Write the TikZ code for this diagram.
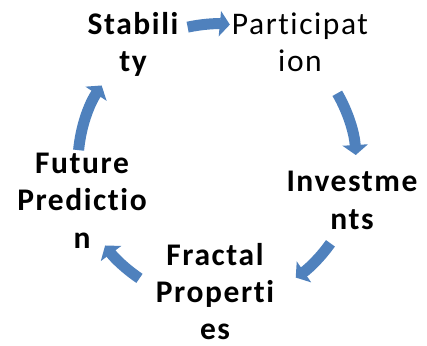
\documentclass[tikz,border=0pt]{standalone}
\usepackage{fontspec}
\setmainfont[LetterSpace=5,Ligatures={NoCommon}]{Carlito}
\usetikzlibrary{arrows.meta,calc}
\definecolor{arcblue}{HTML}{4F81BD}
\tikzset{
  lbl/.style={font=\bfseries\fontsize{31.5}{37}\selectfont, align=center, inner sep=0pt, anchor=base},
  lblr/.style={lbl, font=\fontsize{31.5}{37}\selectfont},
  arcarrow/.style={draw=arcblue, line width=11pt, line cap=butt,
    -{Triangle[length=10pt,width=25pt]}}
}
\begin{document}
\begin{tikzpicture}[x=1pt,y=1pt]
\useasboundingbox (0,0) rectangle (427,345);
\coordinate (c) at (217,182);
% texts (anchor = baseline of last line)
\node[lbl]  (stab) at (133,273) {Stabili\\ty};
\node[lblr] (part) at (300,273) {Participat\\ion};
\node[lbl]  (inv)  at (352,116) {Investme\\nts};
\node[lbl]  (frac) at (215,6)   {Fractal\\Properti\\es};
\node[lbl]  (fut)  at (82,97)   {Future\\Predictio\\n};
% arrows
\draw[arcarrow] ($(c)+(102.2:139)$) arc[start angle=102.2, end angle=84.7, radius=139];
\draw[arcarrow] ($(c)+(30.1:139)$) arc[start angle=30.1, end angle=3.3, radius=139];
\draw[arcarrow] ($(c)+(-35.3:139)$) arc[start angle=-35.3, end angle=-55.5, radius=139];
\draw[arcarrow] ($(c)+(-123.9:139)$) arc[start angle=-123.9, end angle=-143.6, radius=139];
\draw[arcarrow] ($(c)+(174.7:139)$) arc[start angle=174.7, end angle=146.1, radius=139];
\end{tikzpicture}
\end{document}
